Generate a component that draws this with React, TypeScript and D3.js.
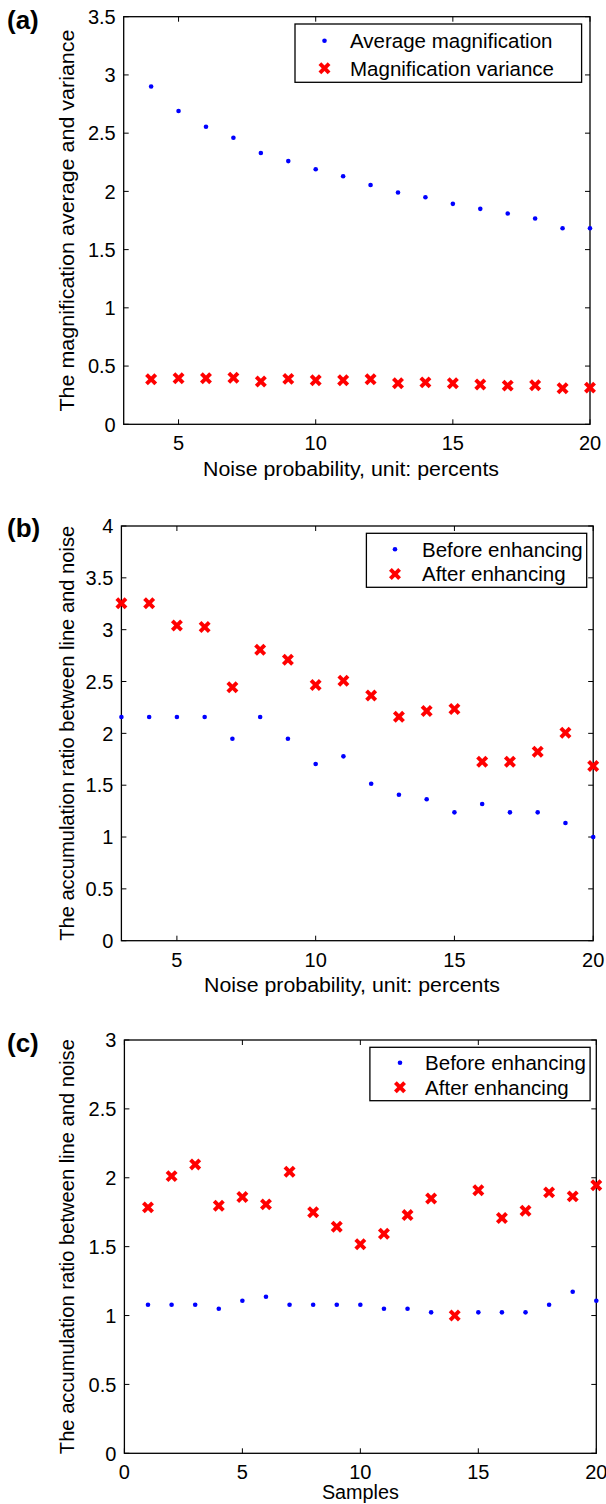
import React from "react";
import * as d3 from "d3";

// ---------- DATA ----------
const aNoise = [4, 5, 6, 7, 8, 9, 10, 11, 12, 13, 14, 15, 16, 17, 18, 19, 20];
const aAverage = [2.9, 2.69, 2.555, 2.46, 2.33, 2.26, 2.19, 2.13, 2.055, 1.99, 1.95, 1.893, 1.85, 1.81, 1.767, 1.683, 1.683];
const aVariance = [0.387, 0.396, 0.396, 0.4, 0.367, 0.39, 0.379, 0.379, 0.387, 0.353, 0.36, 0.353, 0.341, 0.332, 0.335, 0.31, 0.315];

const bNoise = [3, 4, 5, 6, 7, 8, 9, 10, 11, 12, 13, 14, 15, 16, 17, 18, 19, 20];
const bBefore = [2.157, 2.157, 2.157, 2.157, 1.948, 2.157, 1.948, 1.704, 1.778, 1.514, 1.408, 1.364, 1.238, 1.318, 1.238, 1.238, 1.135, 1.0];
const bAfter = [3.254, 3.254, 3.041, 3.025, 2.444, 2.806, 2.71, 2.466, 2.507, 2.366, 2.16, 2.215, 2.234, 1.726, 1.726, 1.823, 2.006, 1.685];

const cSamples = [1, 2, 3, 4, 5, 6, 7, 8, 9, 10, 11, 12, 13, 14, 15, 16, 17, 18, 19, 20];
const cBefore = [1.078, 1.078, 1.078, 1.049, 1.107, 1.136, 1.078, 1.078, 1.078, 1.078, 1.049, 1.049, 1.023, 1.0, 1.023, 1.023, 1.023, 1.078, 1.173, 1.107];
const cAfter = [1.785, 2.012, 2.097, 1.797, 1.86, 1.807, 2.044, 1.749, 1.644, 1.517, 1.594, 1.729, 1.85, 1.0, 1.909, 1.708, 1.761, 1.894, 1.865, 1.945];

const xTicksNoise = [5, 10, 15, 20];
const xTicksSamples = [0, 5, 10, 15, 20];
const yTicksA = [0, 0.5, 1, 1.5, 2, 2.5, 3, 3.5];
const yTicksB = [0, 0.5, 1, 1.5, 2, 2.5, 3, 3.5, 4];
const yTicksC = [0, 0.5, 1, 1.5, 2, 2.5, 3];

const legendA = ["Average magnification", "Magnification variance"];
const legendBC = ["Before enhancing", "After enhancing"];

const FONT = "'Liberation Sans', Arial, Helvetica, sans-serif";

type Panel = {
  tag: string;
  tagY: number;
  left: number; right: number; top: number; bottom: number;
  xDomain: [number, number]; yDomain: [number, number];
  xTicks: number[]; yTicks: number[];
  xs: number[]; blue: number[]; red: number[];
  xLabel: string; xLabelX: number; xLabelW: number; xLabelDy: number;
  yLabel: string; yLabelW: number;
  legend: string[];
  lg: { x0: number; x1: number; y0: number; y1: number; mx: number; tx: number; r1: number; r2: number };
};

const panels: Panel[] = [
  {
    tag: "(a)", tagY: 29,
    left: 123.7, right: 590, top: 16.7, bottom: 424.3,
    xDomain: [3, 20], yDomain: [0, 3.5], xTicks: xTicksNoise, yTicks: yTicksA,
    xs: aNoise, blue: aAverage, red: aVariance,
    xLabel: "Noise probability, unit: percents", xLabelX: 351, xLabelW: 296, xLabelDy: 51.5,
    yLabel: "The magnification average and variance", yLabelW: 382,
    legend: legendA,
    lg: { x0: 295, x1: 581.6, y0: 24, y1: 82.3, mx: 324.5, tx: 350, r1: 40.7, r2: 68.3 },
  },
  {
    tag: "(b)", tagY: 537,
    left: 121.4, right: 593.2, top: 526, bottom: 940.7,
    xDomain: [3, 20], yDomain: [0, 4], xTicks: xTicksNoise, yTicks: yTicksB,
    xs: bNoise, blue: bBefore, red: bAfter,
    xLabel: "Noise probability, unit: percents", xLabelX: 352, xLabelW: 296, xLabelDy: 51.5,
    yLabel: "The accumulation ratio between line and noise", yLabelW: 415,
    legend: legendBC,
    lg: { x0: 366.4, x1: 586.7, y0: 533.3, y1: 587.3, mx: 395, tx: 422, r1: 549.3, r2: 574 },
  },
  {
    tag: "(c)", tagY: 1052,
    left: 124.4, right: 596.3, top: 1040, bottom: 1453.3,
    xDomain: [0, 20], yDomain: [0, 3], xTicks: xTicksSamples, yTicks: yTicksC,
    xs: cSamples, blue: cBefore, red: cAfter,
    xLabel: "Samples", xLabelX: 360.4, xLabelW: 77, xLabelDy: 45.5,
    yLabel: "The accumulation ratio between line and noise", yLabelW: 415,
    legend: legendBC,
    lg: { x0: 369.9, x1: 590.1, y0: 1047.3, y1: 1100.7, mx: 400, tx: 425.1, r1: 1062.7, r2: 1087.3 },
  },
];

const BLUE = "#0000ff";
const RED = "#ff0000";
const TICK = 5;

function Cross({ x, y }: { x: number; y: number }) {
  const s = 4.6;
  return (
    <g transform={`translate(${x},${y})`} stroke={RED} strokeWidth={3.9} strokeLinecap="butt">
      <line x1={-s} y1={-s} x2={s} y2={s} />
      <line x1={-s} y1={s} x2={s} y2={-s} />
    </g>
  );
}

function Dot({ x, y }: { x: number; y: number }) {
  return <circle cx={x} cy={y} r={2.3} fill={BLUE} />;
}

function PanelView({ p }: { p: Panel }) {
  const x = d3.scaleLinear().domain(p.xDomain).range([p.left, p.right]);
  const y = d3.scaleLinear().domain(p.yDomain).range([p.bottom, p.top]);
  const fmt = (d: number) => String(d);
  const midY = (p.top + p.bottom) / 2;
  return (
    <g fontFamily={FONT}>
      <text x={7} y={p.tagY} fontSize={26} fontWeight="bold" fill="#000">{p.tag}</text>
      <rect x={p.left} y={p.top} width={p.right - p.left} height={p.bottom - p.top} fill="none" stroke="#000" strokeWidth={1.3} />
      {p.xTicks.map((t) => (
        <g key={"xt" + t}>
          <line x1={x(t)} x2={x(t)} y1={p.bottom} y2={p.bottom - TICK} stroke="#000" strokeWidth={1} />
          <line x1={x(t)} x2={x(t)} y1={p.top} y2={p.top + TICK} stroke="#000" strokeWidth={1} />
          <text x={x(t)} y={p.bottom + 26} fontSize={20} textAnchor="middle" fill="#000">{fmt(t)}</text>
        </g>
      ))}
      {p.yTicks.map((t) => (
        <g key={"yt" + t}>
          <line x1={p.left} x2={p.left + TICK} y1={y(t)} y2={y(t)} stroke="#000" strokeWidth={1} />
          <line x1={p.right} x2={p.right - TICK} y1={y(t)} y2={y(t)} stroke="#000" strokeWidth={1} />
          <text x={p.left - 8} y={y(t)} dy="0.36em" fontSize={20} textAnchor="end" fill="#000">{fmt(t)}</text>
        </g>
      ))}
      <text x={p.xLabelX} y={p.bottom + p.xLabelDy} fontSize={20} textAnchor="middle" fill="#000"
        textLength={p.xLabelW} lengthAdjust="spacingAndGlyphs">{p.xLabel}</text>
      <text transform={`translate(74,${midY}) rotate(-90)`} fontSize={19.5} textAnchor="middle" fill="#000"
        textLength={p.yLabelW} lengthAdjust="spacingAndGlyphs">{p.yLabel}</text>
      {p.xs.map((xv, i) => <Dot key={"b" + i} x={x(xv)} y={y(p.blue[i])} />)}
      {p.xs.map((xv, i) => <Cross key={"r" + i} x={x(xv)} y={y(p.red[i])} />)}
      <rect x={p.lg.x0} y={p.lg.y0} width={p.lg.x1 - p.lg.x0} height={p.lg.y1 - p.lg.y0} fill="#fff" stroke="#000" strokeWidth={1.3} />
      <Dot x={p.lg.mx} y={p.lg.r1} />
      <Cross x={p.lg.mx} y={p.lg.r2} />
      <text x={p.lg.tx} y={p.lg.r1} dy="0.36em" fontSize={20.5} fill="#000">{p.legend[0]}</text>
      <text x={p.lg.tx} y={p.lg.r2} dy="0.36em" fontSize={20.5} fill="#000">{p.legend[1]}</text>
    </g>
  );
}

export default function App() {
  return (
    <svg width={606} height={1504} viewBox="0 0 606 1504"
      style={{ position: "absolute", left: 0, top: 0, background: "#fff" }}>
      <rect x={0} y={0} width={606} height={1504} fill="#fff" />
      {panels.map((p) => <PanelView key={p.tag} p={p} />)}
    </svg>
  );
}
